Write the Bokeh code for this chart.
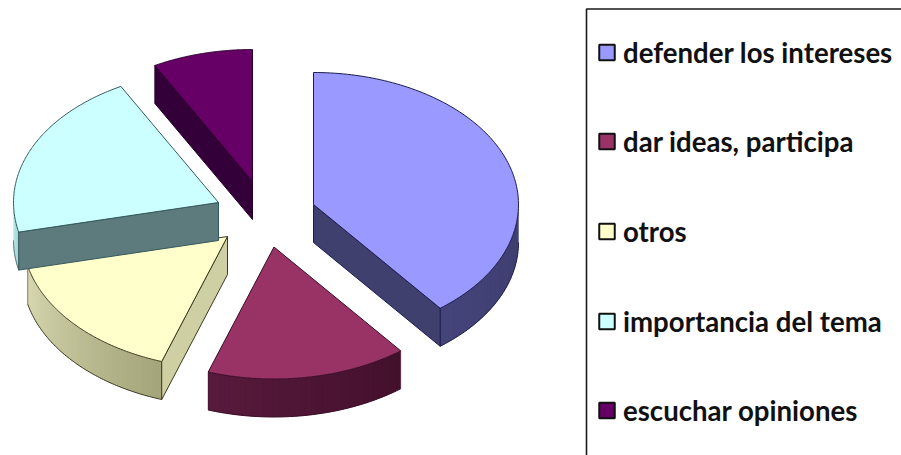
import numpy as np
from bokeh.plotting import figure
from bokeh.models import Range1d
from bokeh.core.properties import value
from bokeh.embed import file_html
from bokeh.resources import INLINE

categories = ["defender los intereses", "dar ideas, participa", "otros", "importancia del tema", "escuchar opiniones"]
values = [39.4, 15.8, 16.2, 20.7, 7.9]
top_colors = ["#9999ff", "#993366", "#ffffcc", "#ccffff", "#660066"]
cut_colors = ["#40406f", None, "#cfcfa4", "#5d7a7c", "#33003a"]
cut_side = [1, None, 0, 0, 0]
arc_start_colors = ["#3d3d6e", "#43102c", "#a5a57c", "#a6d6d8", "#330033"]
arc_end_colors = ["#44447a", "#581a3c", "#d8d8b0", "#bfe8e8", "#330033"]
edge_colors = ["#1c1c50", "#3a0c26", "#3a3a20", "#34595c", "#2a002a"]
apex_x = [313, 273.5, 227, 218, 252]
apex_y = [204, 246.5, 236, 202, 181]
legend_y = [52, 141, 231, 321, 410]
draw_order = [4, 2, 3, 1, 0]
RX, RY, DEPTH = 205, 132, 38


def pt(cx, cy, deg):
    t = np.radians(deg)
    return cx + RX * np.sin(t), cy - RY * np.cos(t)


def mix(a, b, f):
    ca = [int(a[i:i + 2], 16) for i in (1, 3, 5)]
    cb = [int(b[i:i + 2], 16) for i in (1, 3, 5)]
    return "#%02x%02x%02x" % tuple(int(round(x + (y - x) * f)) for x, y in zip(ca, cb))


edges = np.concatenate([[0], np.cumsum(values) / np.sum(values) * 360])

p = figure(width=901, height=455, output_backend="svg", toolbar_location=None,
           x_range=Range1d(0, 901), y_range=Range1d(455, 0), min_border=0)
p.axis.visible = False
p.grid.visible = False
p.outline_line_color = None
p.background_fill_color = "white"
p.border_fill_color = "white"

for i in draw_order:
    cx, cy = apex_x[i], apex_y[i]
    a0, a1 = edges[i], edges[i + 1]
    edge = edge_colors[i]
    # outer curved wall, as narrow shaded overlapping strips
    w0, w1 = max(a0, 90), min(a1, 270)
    if w1 > w0:
        steps = np.linspace(w0, w1, max(int((w1 - w0) / 1.5), 2) + 1)
        for k in range(len(steps) - 1):
            xa, ya = pt(cx, cy, steps[k])
            xb, yb = pt(cx, cy, steps[min(k + 2, len(steps) - 1)])
            f = k / max(len(steps) - 2, 1)
            c = mix(arc_start_colors[i], arc_end_colors[i], f)
            p.patch([xa, xb, xb, xa], [ya, yb, yb + DEPTH, ya + DEPTH], fill_color=c, line_color=None)
        arc = np.linspace(w0, w1, 80)
        lx, ly = pt(cx, cy, arc)
        p.line(lx, ly + DEPTH, line_color=edge, line_width=1)
        for ang in (w0, w1):
            ex, ey = pt(cx, cy, ang)
            if ang in (a0, a1):
                p.line([ex, ex], [ey, ey + DEPTH], line_color=edge, line_width=0.6)
    # straight cut face turned to the viewer
    if cut_side[i] is not None:
        ex, ey = pt(cx, cy, edges[i + cut_side[i]])
        p.patch([cx, ex, ex, cx], [cy, ey, ey + DEPTH, cy + DEPTH], fill_color=cut_colors[i],
                line_color=edge, line_width=1)
    # top face
    arc = np.linspace(a0, a1, 120)
    tx, ty = pt(cx, cy, arc)
    p.patch(np.concatenate([[cx], tx]), np.concatenate([[cy], ty]), fill_color=top_colors[i],
            line_color=edge, line_width=1)

# legend frame
p.line([901, 586, 586], [8.5, 8.5, 455], line_color="#1a1a1a", line_width=1.6)
p.rect([606.5] * 5, legend_y, width=15.5, height=15.5, fill_color=top_colors,
       line_color="#111111", line_width=2)
p.text([622.5] * 5, legend_y, text=categories, text_font=value("Lato"), text_font_style="bold",
       text_font_size="27.6px", text_baseline="middle", text_align="left", text_color="#111111")

open("out.html", "w").write(file_html(p, INLINE))
